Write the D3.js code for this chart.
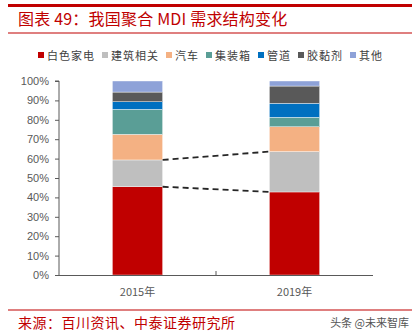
<!DOCTYPE html>
<html>
<head>
<meta charset="utf-8">
<script src="https://cdn.jsdelivr.net/npm/d3@7"></script>
<style>
  body { margin: 0; background: #fff; }
  svg { display: block; }
</style>
</head>
<body>
<script>
var years = ['2015年', '2019年'];
var segNames = ['白色家电', '建筑相关', '汽车', '集装箱', '管道', '胶黏剂', '其他'];
var segColors = ['#C00000', '#BFBFBF', '#F4B183', '#5A9E96', '#0070C0', '#595959', '#8EA2D8'];
// share of each segment, in %, for 2015 then 2019
var baiSe = [45.5, 42.8];
var jianZhu = [13.8, 20.8];
var qiChe = [13.2, 12.8];
var jiZhuangXiang = [12.9, 4.9];
var guanDao = [3.9, 7.2];
var jiaoNianJi = [5.0, 8.9];
var qiTa = [5.7, 2.6];
var yTicks = [0, 10, 20, 30, 40, 50, 60, 70, 80, 90, 100];

var width = 417, height = 335;
var red = '#C00000';
var cjk = '"Noto Sans CJK SC", "Noto Sans", sans-serif';

var svg = d3.select('body').append('svg')
    .attr('width', width)
    .attr('height', height);

// header lines and title
svg.append('rect').attr('x', 8).attr('y', 4).attr('width', 404).attr('height', 3).attr('fill', red);
svg.append('rect').attr('x', 8).attr('y', 32.5).attr('width', 404).attr('height', 1).attr('fill', red);
svg.append('text')
    .attr('x', 18).attr('y', 25)
    .attr('fill', red)
    .style('font-family', cjk)
    .style('font-size', '16px')
    .style('letter-spacing', '0.2px')
    .text('图表 49：我国聚合 MDI 需求结构变化');

// table for stacking
var rows = years.map(function(y, i) {
    var r = { year: y };
    var vals = [baiSe, jianZhu, qiChe, jiZhuangXiang, guanDao, jiaoNianJi, qiTa];
    segNames.forEach(function(n, k) { r[n] = vals[k][i]; });
    return r;
});
var series = d3.stack().keys(segNames)(rows);

var x = d3.scaleBand().domain(years).range([59, 373]).paddingInner(0.68).paddingOuter(0.34);
var y = d3.scaleLinear().domain([0, 100]).range([275, 81]);

// y axis
var yAxis = svg.append('g')
    .attr('transform', 'translate(59,0)')
    .call(d3.axisLeft(y).tickValues(yTicks).tickSize(4).tickFormat(function(d) { return d + '%'; }));
yAxis.select('.domain').attr('stroke', '#595959').attr('d', 'M-4,81H0V275');
yAxis.selectAll('.tick line').attr('stroke', '#595959');
yAxis.selectAll('.tick text')
    .attr('x', -10)
    .attr('fill', '#595959')
    .style('font-family', '"Liberation Sans", Arial, sans-serif')
    .style('font-size', '11px');

// bars
svg.append('g').selectAll('g')
    .data(series)
    .enter().append('g')
    .attr('fill', function(d, i) { return segColors[i]; })
    .selectAll('rect')
    .data(function(d) { return d; })
    .enter().append('rect')
    .attr('x', function(d) { return x(d.data.year); })
    .attr('width', x.bandwidth())
    .attr('y', function(d) { return y(d[1]); })
    .attr('height', function(d) { return y(d[0]) - y(d[1]); })
    .attr('stroke', '#fff')
    .attr('stroke-width', 0.4);

// x axis
svg.append('line')
    .attr('x1', 59).attr('x2', 373).attr('y1', 275.5).attr('y2', 275.5)
    .attr('stroke', '#595959');
svg.append('line')
    .attr('x1', 216).attr('x2', 216).attr('y1', 275).attr('y2', 271)
    .attr('stroke', '#595959');
svg.append('g').selectAll('text')
    .data(years)
    .enter().append('text')
    .attr('x', function(d) { return x(d) + x.bandwidth() / 2; })
    .attr('y', 296)
    .attr('text-anchor', 'middle')
    .attr('fill', '#595959')
    .style('font-family', cjk)
    .style('font-size', '11px')
    .text(function(d) { return d; });

// dashed connectors between tops of red and gray segments
[0, 1].forEach(function(k) {
    var s = series[k];
    svg.append('line')
        .attr('x1', x(years[0]) + x.bandwidth())
        .attr('y1', y(s[0][1]))
        .attr('x2', x(years[1]))
        .attr('y2', y(s[1][1]))
        .attr('stroke', '#262626')
        .attr('stroke-width', 1.8)
        .attr('stroke-dasharray', '6,4');
});

// legend
var lg = svg.append('g').attr('transform', 'translate(38,56)');
var cx = 0;
segNames.forEach(function(n, i) {
    lg.append('rect')
        .attr('x', cx).attr('y', -4)
        .attr('width', 6).attr('height', 6)
        .attr('fill', segColors[i]);
    var t = lg.append('text')
        .attr('x', cx + 9).attr('y', 3.5)
        .attr('fill', '#404040')
        .style('font-family', cjk)
        .style('font-size', '11px')
        .style('letter-spacing', '1px')
        .text(n);
    cx += 9 + t.node().getComputedTextLength() + 7;
});

// footer
svg.append('rect').attr('x', 8).attr('y', 309.5).attr('width', 404).attr('height', 1).attr('fill', red);
svg.append('text')
    .attr('x', 18).attr('y', 328)
    .attr('fill', red)
    .style('font-family', cjk)
    .style('font-size', '14px')
    .style('letter-spacing', '0.5px')
    .text('来源：百川资讯、中泰证券研究所');
svg.append('text')
    .attr('x', 409).attr('y', 327)
    .attr('text-anchor', 'end')
    .attr('fill', '#555')
    .style('font-family', cjk)
    .style('font-size', '11px')
    .text('头条 @未来智库');
</script>
</body>
</html>
